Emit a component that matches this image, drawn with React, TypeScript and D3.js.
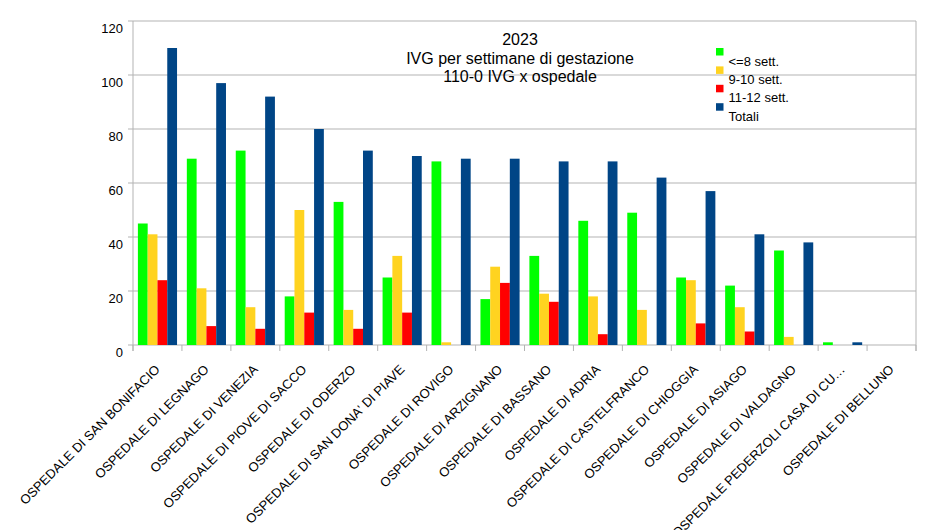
import { useMemo } from "react";
import * as d3 from "d3";

const hospitals = [
  "OSPEDALE DI SAN BONIFACIO",
  "OSPEDALE DI LEGNAGO",
  "OSPEDALE DI VENEZIA",
  "OSPEDALE DI PIOVE DI SACCO",
  "OSPEDALE DI ODERZO",
  "OSPEDALE DI SAN DONA' DI PIAVE",
  "OSPEDALE DI ROVIGO",
  "OSPEDALE DI ARZIGNANO",
  "OSPEDALE DI BASSANO",
  "OSPEDALE DI ADRIA",
  "OSPEDALE DI CASTELFRANCO",
  "OSPEDALE DI CHIOGGIA",
  "OSPEDALE DI ASIAGO",
  "OSPEDALE DI VALDAGNO",
  "OSPEDALE PEDERZOLI CASA DI CU…",
  "OSPEDALE DI BELLUNO",
];

const upTo8 = [45, 69, 72, 18, 53, 25, 68, 17, 33, 46, 49, 25, 22, 35, 1, 0];
const weeks9to10 = [41, 21, 14, 50, 13, 33, 1, 29, 19, 18, 13, 24, 14, 3, 0, 0];
const weeks11to12 = [24, 7, 6, 12, 6, 12, 0, 23, 16, 4, 0, 8, 5, 0, 0, 0];
const totals = [110, 97, 92, 80, 72, 70, 69, 69, 68, 68, 62, 57, 41, 38, 1, 0];

const seriesNames = ["<=8 sett.", "9-10 sett.", "11-12 sett.", "Totali"];
const seriesColors = ["#00ff00", "#ffd320", "#ff0000", "#004586"];
const yTicks = [0, 20, 40, 60, 80, 100, 120];
const titleLines = ["2023", "IVG per settimane di gestazione", "110-0 IVG x ospedale"];

const width = 943;
const height = 530;
const margins = { top: 21, right: 27, bottom: 185, left: 133 };
const gridColor = "#b3b3b3";
const font = "'Liberation Sans', Arial, sans-serif";

export default function App() {
  const series = [upTo8, weeks9to10, weeks11to12, totals];
  const plotRight = width - margins.right;
  const plotBottom = height - margins.bottom;

  const xScale = useMemo(
    () =>
      d3
        .scaleBand<string>()
        .domain(hospitals)
        .range([margins.left, plotRight])
        .paddingInner(0)
        .paddingOuter(0),
    [plotRight]
  );

  // 4 bars per group, half a bar of space on either side
  const innerScale = useMemo(
    () =>
      d3
        .scaleBand<number>()
        .domain(d3.range(series.length))
        .range([0, xScale.bandwidth()])
        .paddingInner(0)
        .paddingOuter(0.5),
    [xScale, series.length]
  );

  const yScale = useMemo(
    () => d3.scaleLinear().domain([0, 120]).range([plotBottom, margins.top]),
    [plotBottom]
  );

  const boundaries = hospitals.map((h) => xScale(h) || 0).concat([plotRight]);

  return (
    <svg
      width={width}
      height={height}
      style={{ position: "absolute", left: 0, top: 0, background: "#fff" }}
      fontFamily={font}
    >
      {/* grid + y labels */}
      {yTicks.map((t) => (
        <g key={t}>
          <line
            x1={margins.left - 5}
            x2={plotRight}
            y1={yScale(t)}
            y2={yScale(t)}
            stroke={gridColor}
            strokeWidth={1}
          />
          <text x={123} y={yScale(t) + 12} textAnchor="end" fontSize={13} fill="#000">
            {t}
          </text>
        </g>
      ))}

      {/* frame verticals and category ticks */}
      <line x1={margins.left} x2={margins.left} y1={margins.top} y2={plotBottom + 6} stroke={gridColor} />
      <line x1={plotRight} x2={plotRight} y1={margins.top} y2={plotBottom + 6} stroke={gridColor} />
      {boundaries.map((b, i) => (
        <line key={i} x1={b} x2={b} y1={plotBottom} y2={plotBottom + 6} stroke={gridColor} />
      ))}

      {/* bars */}
      {series.map((values, si) => (
        <g key={si} fill={seriesColors[si]}>
          {values.map((v, i) =>
            v > 0 ? (
              <rect
                key={i}
                x={(xScale(hospitals[i]) || 0) + (innerScale(si) || 0)}
                y={yScale(v)}
                width={innerScale.bandwidth()}
                height={plotBottom - yScale(v)}
              />
            ) : null
          )}
        </g>
      ))}

      {/* x labels */}
      {hospitals.map((h) => {
        const cx = (xScale(h) || 0) + xScale.bandwidth() / 2;
        return (
          <text
            key={h}
            transform={`translate(${cx},367) rotate(-45)`}
            textAnchor="end"
            dy="0.35em"
            fontSize={13}
            fill="#000"
          >
            {h}
          </text>
        );
      })}

      {/* title */}
      {titleLines.map((line, i) => (
        <text key={i} x={520} y={45 + i * 18.5} textAnchor="middle" fontSize={16} fill="#000">
          {line}
        </text>
      ))}

      {/* legend */}
      {seriesNames.map((name, i) => (
        <g key={name} transform={`translate(716,${48 + i * 18.4})`}>
          <rect width={7.5} height={7.5} fill={seriesColors[i]} />
          <text x={12.5} y={17.5} fontSize={13} fill="#000">
            {name}
          </text>
        </g>
      ))}
    </svg>
  );
}
